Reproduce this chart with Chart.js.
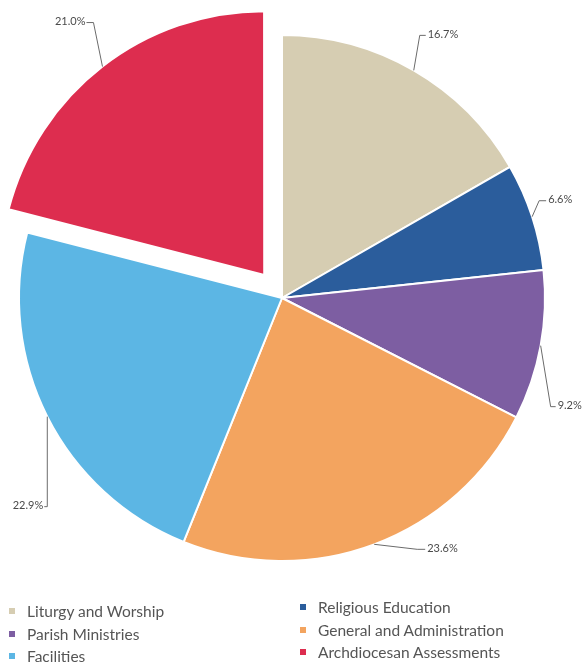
<!DOCTYPE html>
<html>
<head>
<meta charset="utf-8">
<script src="https://cdn.jsdelivr.net/npm/chart.js@4"></script>
<style>
  body { margin: 0; background: #fff; }
  #wrap { position: relative; width: 583px; height: 662px; }
  #legend { position: absolute; left: 0; top: 0; width: 583px; height: 662px; pointer-events: none;
            font-family: Lato, "Open Sans", sans-serif; font-size: 15.5px; color: #555; }
  .item { position: absolute; white-space: nowrap; line-height: 18px; }
  .box { position: absolute; width: 6px; height: 6px; top: 6px; }
</style>
</head>
<body>
<div id="wrap">
  <canvas id="budgetPie" width="583" height="662"></canvas>
  <div id="legend"></div>
</div>
<script>
var categories = ['Liturgy and Worship', 'Religious Education', 'Parish Ministries',
                  'General and Administration', 'Facilities', 'Archdiocesan Assessments'];
var shares = [16.7, 6.6, 9.2, 23.6, 22.9, 21.0];
var sliceColors = ['#d6cdb2', '#2b5d9c', '#7d5ea2', '#f3a45f', '#5cb6e4', '#dd2d4f'];

// leader line: [elbow dx, elbow dy, horizontal tick (negative = text on left)]
var leaders = [[6, -35, 6], [7, -16, 7], [10, 61, 5], [43, 5, 8], [0, 90, -3], [-9, -44, -7]];

// how far Chart.js actually moves an arc for a given offset option
function arcShift(arc) {
  var off = (arc.options.offset || 0) / 4;
  var circ = arc.endAngle - arc.startAngle;
  return off * (2 - Math.sin(Math.min(Math.PI, circ)));
}

var leaderLabels = {
  id: 'leaderLabels',
  afterDatasetsDraw: function(chart) {
    var ctx = chart.ctx;
    var meta = chart.getDatasetMeta(0);
    ctx.save();
    ctx.strokeStyle = '#6b6b6b';
    ctx.lineWidth = 1;
    ctx.fillStyle = '#4a4a4a';
    ctx.font = '11px Lato, "Open Sans", sans-serif';
    ctx.textBaseline = 'middle';
    meta.data.forEach(function(arc, i) {
      var p = arc.getProps(['x', 'y', 'startAngle', 'endAngle', 'outerRadius'], true);
      var mid = (p.startAngle + p.endAngle) / 2;
      var r = p.outerRadius + arcShift(arc);
      var sx = p.x + Math.cos(mid) * r;
      var sy = p.y + Math.sin(mid) * r;
      var l = leaders[i];
      var ex = sx + l[0], ey = sy + l[1];
      var tx = ex + l[2];
      ctx.beginPath();
      ctx.moveTo(sx, sy);
      ctx.lineTo(ex, ey);
      ctx.lineTo(tx, ey);
      ctx.stroke();
      var txt = shares[i].toFixed(1) + '%';
      if (l[2] < 0) {
        ctx.textAlign = 'right';
        ctx.fillText(txt, tx - 1, ey - 1);
      } else {
        ctx.textAlign = 'left';
        ctx.fillText(txt, tx + 2, ey - 1);
      }
    });
    ctx.restore();
  }
};

var ctx = document.getElementById('budgetPie');
var budgetPie = new Chart(ctx, {
  type: 'pie',
  data: {
    labels: categories,
    datasets: [{
      data: shares,
      backgroundColor: sliceColors,
      borderColor: '#ffffff',
      borderWidth: 2,
      offset: [0, 0, 0, 0, 0, 116],
      clip: false
    }]
  },
  options: {
    responsive: false,
    animation: false,
    radius: 263,
    layout: { padding: { left: 0, right: 19, top: 0, bottom: 66 } },
    plugins: {
      legend: { display: false },
      tooltip: { enabled: false }
    }
  },
  plugins: [leaderLabels]
});

// legend, two columns
var legend = document.getElementById('legend');
categories.forEach(function(name, i) {
  var col = i % 2, row = Math.floor(i / 2);
  var item = document.createElement('div');
  item.className = 'item';
  item.style.left = (col ? 300 : 9) + 'px';
  item.style.top = ((col ? 598 : 602) + row * 22.5) + 'px';
  item.style.paddingLeft = '18px';
  var box = document.createElement('span');
  box.className = 'box';
  box.style.left = '0px';
  box.style.background = sliceColors[i];
  item.appendChild(box);
  item.appendChild(document.createTextNode(name));
  legend.appendChild(item);
});
</script>
</body>
</html>
